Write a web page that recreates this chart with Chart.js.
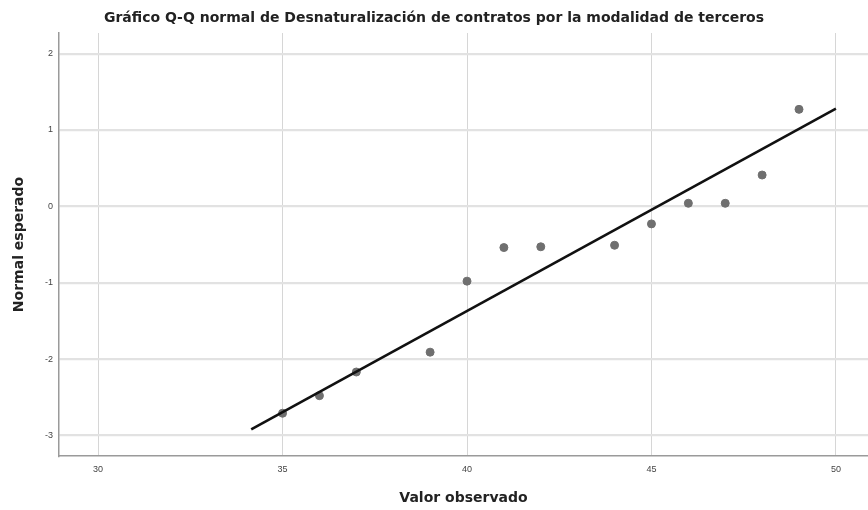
<!DOCTYPE html>
<html>
<head>
<meta charset="utf-8">
<script src="https://cdn.jsdelivr.net/npm/chart.js@4"></script>
<style>
  body { margin: 0; background: #fff; }
  #qq { display: block; }
</style>
</head>
<body>
<canvas id="qq" width="868" height="510"></canvas>
<script>
//  Q-Q normal plot

const observed = [35, 36, 37, 39, 40, 41, 42, 44, 45, 46, 47, 48, 49];
const expected = [-2.71, -2.48, -2.17, -1.91, -0.98, -0.54, -0.53, -0.51, -0.23, 0.04, 0.04, 0.41, 1.27];
const lineX = [34.15, 50];
const lineY = [-2.92, 1.28];
const xTicks = [30, 35, 40, 45, 50];
const yTicks = [-3, -2, -1, 0, 1, 2];

const qq = document.getElementById("qq");
Chart.defaults.font.family = "'Liberation Sans', Arial, sans-serif";
const titleFont = { family: "'DejaVu Sans', sans-serif", size: 14, weight: "bold" };

new Chart(qq, {
  type: "scatter",
  data: {
    datasets: [
      {
        label: "Recta",
        data: lineX.map((x, i) => ({ x: x, y: lineY[i] })),
        showLine: true,
        borderColor: "#111111",
        borderWidth: 2.6,
        pointRadius: 0,
        order: 0,
      },
      {
        label: "Observado",
        data: observed.map((x, i) => ({ x: x, y: expected[i] })),
        backgroundColor: "#6f6f6f",
        borderColor: "#6f6f6f",
        pointRadius: 4,
        order: 1,
      },
    ],
  },
  options: {
    responsive: false,
    animation: false,
    layout: { padding: 0, autoPadding: false },
    plugins: {
      legend: { display: false },
      tooltip: { enabled: false },
      title: {
        display: true,
        text: "Gráfico Q-Q normal de Desnaturalización de contratos por la modalidad de terceros",
        color: "#222",
        font: { family: "'DejaVu Sans', sans-serif", size: 14, weight: "bold" },
        padding: { top: 10, bottom: 6.2 },
      },
    },
    scales: {
      x: {
        type: "linear",
        min: 28.94,
        max: 50.87,
        afterFit: (s) => {
          s.height = 54;
          s.paddingLeft = 0;
          s.paddingRight = 0;
        },
        afterBuildTicks: (s) => { s.ticks = xTicks.map((v) => ({ value: v })); },
        grid: { color: "#d6d6d6", lineWidth: 1, drawTicks: false },
        border: { color: "#9a9a9a", width: 1.5 },
        ticks: { color: "#444", font: { size: 9 }, padding: 8 },
        title: {
          display: true,
          text: "Valor observado",
          color: "#222",
          font: titleFont,
          padding: { bottom: 3 },
        },
      },
      y: {
        type: "linear",
        min: -3.27,
        max: 2.27,
        afterFit: (s) => {
          s.width = 59;
          s.paddingTop = 0;
          s.paddingBottom = 0;
        },
        afterBuildTicks: (s) => { s.ticks = yTicks.map((v) => ({ value: v })); },
        grid: { color: "#e2e2e2", lineWidth: 2.2, drawTicks: false },
        border: { color: "#9a9a9a", width: 1.5 },
        ticks: { color: "#444", font: { size: 9 }, padding: 6 },
        title: {
          display: true,
          text: "Normal esperado",
          color: "#222",
          font: titleFont,
          padding: { top: 11 },
        },
      },
    },
  },
});
</script>
</body>
</html>
